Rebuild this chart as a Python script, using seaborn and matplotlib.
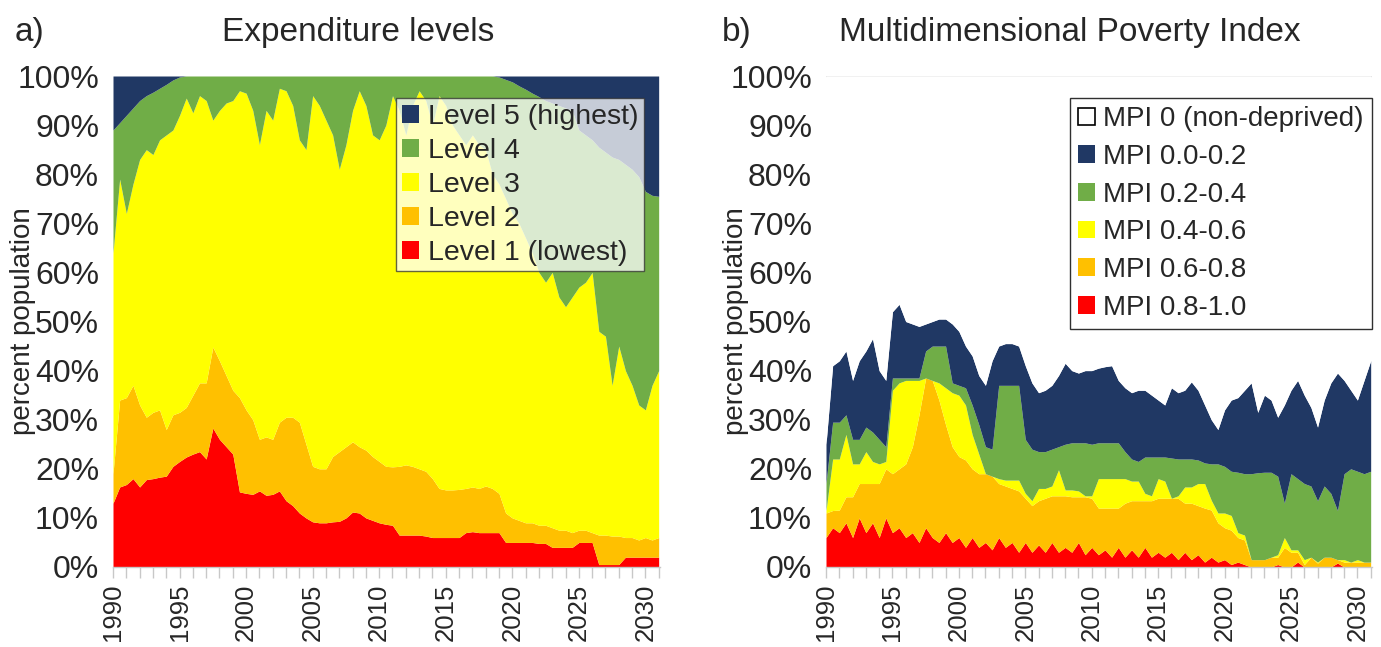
import numpy as np
import matplotlib
matplotlib.use("Agg")
import matplotlib.pyplot as plt
from matplotlib.patches import Patch
from matplotlib.ticker import MultipleLocator, FuncFormatter
import seaborn as sns

# ---------------- data (cumulative tops, % population), half-year steps ----------------
years = np.arange(1990.0, 2031.01, 0.5)

# a) Expenditure levels (cumulative boundaries)
exp_l1_top = [13, 16.3, 16.8, 18, 16.3, 17.8, 18, 18.3, 18.5, 20.5,
              21.5, 22.4, 23, 23.5, 22, 28.3, 26, 24.5, 23, 15.3,
              15, 14.8, 15.5, 14.6, 14.8, 15.5, 13.5, 12.5, 11, 10,
              9.2, 9, 9, 9.2, 9.3, 10, 11.2, 11, 10, 9.5,
              9, 8.7, 8.5, 6.5, 6.5, 6.5, 6.5, 6.3, 6, 6,
              6, 6, 6, 7, 7.2, 7, 7, 7, 7, 5,
              5, 5, 5, 5, 4.8, 4.8, 4, 4, 4, 4,
              5, 5, 5, 0.5, 0.5, 0.5, 0.5, 2, 2, 2,
              2, 2, 2]
exp_l2_top = [19, 34, 34.5, 37, 33, 30.5, 31.5, 32, 28, 31,
              31.5, 32.5, 35, 37.5, 37.5, 44.8, 42, 39, 36, 34.5,
              32, 30, 26, 26.5, 26, 29.5, 30.5, 30.5, 29.5, 25,
              20.5, 20, 20, 22.5, 23.5, 24.5, 25.5, 24.5, 23.8, 22.5,
              21.5, 20.5, 20.4, 20.5, 20.8, 20.5, 20, 19.5, 18, 16,
              15.7, 15.7, 15.8, 16, 16.3, 16, 16.5, 16, 15, 11,
              10, 9.5, 9, 9, 8.5, 8.5, 8, 7.5, 7.5, 7,
              7.5, 7.5, 7, 6.5, 6.5, 6.3, 6.3, 6, 6, 5.5,
              6, 5.5, 6]
exp_l3_top = [64, 79, 72, 78, 83, 85, 84, 87, 88, 89,
              92, 95.5, 92.5, 96, 95, 91, 93, 94.5, 95, 97,
              96.5, 93, 86, 93, 91, 97.5, 97, 94, 87, 85,
              96, 94, 91, 88, 81, 86, 93, 97, 94, 88,
              87, 90, 96, 93, 88, 94, 97, 95, 90, 96,
              94, 90, 88, 86, 88, 86, 85, 80, 78, 75,
              72, 70, 67, 64, 60, 58, 60, 55, 53, 55,
              57, 58, 60, 48, 47, 37, 45, 40, 37, 33,
              32, 37, 40]
exp_l4_top = [89, 90.5, 92, 93.5, 95, 96, 96.7, 97.5, 98.3, 99.2,
              99.8, 100, 100, 100, 100, 100, 100, 100, 100, 100,
              100, 100, 100, 100, 100, 100, 100, 100, 100, 100,
              100, 100, 100, 100, 100, 100, 100, 100, 100, 100,
              100, 100, 100, 100, 100, 100, 100, 100, 100, 100,
              100, 100, 100, 100, 100, 100, 100, 100, 99.8, 99.3,
              98.8, 98, 97.3, 96.5, 95.8, 95, 94.5, 94, 93.5, 93,
              89, 88, 87, 85.5, 84.5, 83.5, 83, 82, 81, 79.5,
              76.5, 75.7, 75.5]
exp_labels = ["Level 1 (lowest)", "Level 2", "Level 3", "Level 4", "Level 5 (highest)"]

# b) Multidimensional Poverty Index (cumulative boundaries)
mpi_red_top = [6, 8, 7, 9, 6, 10, 7, 9, 6, 10,
               7, 8, 6, 7, 5, 8, 6, 5, 7, 5,
               6, 4, 6, 4, 5, 3.5, 6, 4, 5, 3,
               5, 3, 4.5, 3, 5, 3, 4, 3, 5, 2.5,
               4, 2.5, 3.5, 2, 4, 2, 3.5, 2, 4, 2,
               3, 2, 3, 1.5, 3, 1.5, 2.5, 1, 2, 1,
               1.5, 0.5, 1, 0.5, 0, 0, 0, 0, 0.5, 0,
               0, 1, 0, 0, 0, 0, 0, 0.8, 0, 0,
               0, 0, 0]
mpi_orange_top = [11, 11.5, 11.6, 14.3, 14.3, 17, 17, 17, 17, 20,
                  19, 20, 21, 24.5, 31, 38.5, 38, 34, 29, 24.5,
                  22.5, 21.8, 20, 19, 19, 18.5, 17, 16.5, 16, 15.5,
                  14, 12.5, 13.5, 14, 14.5, 14.5, 14.5, 14.3, 14.3, 14.3,
                  14, 12, 12, 12, 12, 13, 13.5, 13.5, 13.5, 13.5,
                  14, 14, 14, 14, 13, 13, 12.5, 12, 11.6, 9,
                  8, 7.5, 6, 5.5, 1.5, 1.5, 1.5, 2, 2, 4,
                  3, 3, 0.5, 2, 0.8, 2, 2, 1.5, 1, 1,
                  1, 1, 1]
mpi_yellow_top = [11.5, 22, 22, 27, 21, 21, 23.5, 21.5, 21, 21.5,
                  36, 37.5, 38, 38, 38, 38.5, 38, 37.5, 36.5, 35.5,
                  35, 33, 27, 23, 19, 18.5, 18, 17.7, 17.7, 17.7,
                  15, 13.5, 16, 16, 16.5, 19.8, 15.7, 15.7, 15.5, 14.5,
                  14.5, 18, 18, 18, 18, 18, 17.5, 17.5, 15, 14.5,
                  18, 17.5, 14, 14.5, 16.3, 16.3, 17, 17, 13.6, 11,
                  11, 10.5, 7, 6.5, 1.5, 1.5, 1.5, 2, 2.5, 6,
                  3.5, 3.5, 1.5, 2, 1, 2, 2, 1.5, 1.5, 1,
                  1.5, 1, 1]
mpi_green_top = [17, 29.5, 29.5, 31, 26, 26, 28.5, 27.5, 26, 24.5,
                 38.5, 38.5, 38.5, 38.5, 38.5, 44, 45, 45, 45, 37.5,
                 37, 36.5, 33, 29, 24.5, 24, 37, 37, 37, 37,
                 26, 24, 23.5, 23.5, 24, 24.5, 25, 25.3, 25.3, 25.3,
                 25, 25.3, 25.3, 25.3, 25.3, 23.5, 22, 21.5, 22.4, 22.4,
                 22.4, 22.4, 22.2, 22, 22, 22, 21.8, 21.2, 21, 21,
                 20.5, 19.5, 19.3, 19, 19, 19.2, 19.3, 19.3, 18.5, 13,
                 19, 18, 17, 16.5, 13.5, 16.5, 15, 11.5, 19, 20,
                 19.5, 19, 19.5]
mpi_navy_top = [25, 41, 42, 44, 38, 42, 44, 46.5, 40, 38,
                52, 53.5, 50, 49.5, 49, 49.5, 50, 50.5, 50.5, 49.5,
                48, 45, 43, 39, 37, 42, 45, 45.5, 45.5, 45,
                41, 37.5, 35.5, 36, 37, 39, 41.5, 40, 39.5, 40,
                40, 40.5, 40.8, 41, 38, 36.5, 35.5, 36, 36, 35,
                34, 33, 36.5, 35.5, 36, 37.7, 36, 33, 30, 28,
                32, 34, 34.5, 36, 37.5, 31.5, 35, 34, 30.5, 33,
                36, 38, 35, 32.5, 28.5, 34, 37.5, 39.5, 38, 36,
                34, 38, 42]
mpi_labels = ["MPI 0.8-1.0", "MPI 0.6-0.8", "MPI 0.4-0.6", "MPI 0.2-0.4",
              "MPI 0.0-0.2", "MPI 0 (non-deprived)"]

xtick_years = [1990, 1995, 2000, 2005, 2010, 2015, 2020, 2025, 2030]

# ---------------- style ----------------
sns.set_theme(style="white")
plt.rcParams['font.family'] = ['Liberation Sans', 'DejaVu Sans']

RED, ORANGE, YELLOW, GREEN, NAVY = "#ff0000", "#ffc000", "#ffff00", "#70ad47", "#203864"
layer_colors = [RED, ORANGE, YELLOW, GREEN, NAVY]

W, H = 1381, 647
fig = plt.figure(figsize=(W / 100, H / 100), dpi=100)

def px_axes(x0, x1, y0, y1):
    return fig.add_axes([x0 / W, 1 - y1 / H, (x1 - x0) / W, (y1 - y0) / H])

axA = px_axes(113, 660, 76, 567)
axB = px_axes(826, 1372, 76, 567)

def draw_stack(ax, tops, colors, labels):
    lower = np.zeros(len(years))
    for top, c, lab in zip(tops, colors, labels):
        top = np.asarray(top, dtype=float)
        ax.fill_between(years, lower, top, color=c, linewidth=0, label=lab)
        lower = top

# a)
draw_stack(axA, [exp_l1_top, exp_l2_top, exp_l3_top, exp_l4_top, [100] * len(years)],
           layer_colors, exp_labels)
# b)
draw_stack(axB, [mpi_red_top, mpi_orange_top, mpi_yellow_top, mpi_green_top, mpi_navy_top,
                 [100] * len(years)],
           layer_colors + ["#ffffff"], mpi_labels)
axB.axhline(100, color="#e3e3e3", lw=1, zorder=0.5)

for ax in (axA, axB):
    ax.set_xlim(1990, 2031.1)
    ax.set_ylim(0, 100)
    ax.set_yticks(np.arange(0, 101, 10))
    ax.yaxis.set_major_formatter(FuncFormatter(lambda v, p: f"{int(v)}%"))
    ax.set_xticks(xtick_years)
    ax.set_xticklabels([str(y) for y in xtick_years], rotation=90)
    ax.xaxis.set_minor_locator(MultipleLocator(1))
    ax.tick_params(axis="x", which="both", direction="out", length=8, width=1,
                   color="#c8c8c8", bottom=True, pad=4)
    ax.tick_params(axis="x", which="major", labelsize=18.5)
    ax.tick_params(axis="y", which="both", length=0, labelsize=23, pad=10)
    for s in ("top", "right", "left"):
        ax.spines[s].set_visible(False)
    ax.spines["bottom"].set_color("#c8c8c8")
    ax.spines["bottom"].set_linewidth(1)
    ax.set_ylabel("percent population", fontsize=20)
    ax.yaxis.set_label_coords(-77 / 547, 0.5)
    ax.set_facecolor("white")

# legends
hA = [Patch(facecolor=c, edgecolor="none") for c in reversed(layer_colors)]
legA = axA.legend(hA, list(reversed(exp_labels)), loc="upper right",
                  bbox_to_anchor=(1 - 16 / 547, 1 - 22 / 491), borderaxespad=0,
                  fontsize=20.5, handlelength=0.6, handleheight=0.6, handletextpad=0.3,
                  labelspacing=0.28, borderpad=0.2, fancybox=False,
                  framealpha=0.75, facecolor="white", edgecolor="#303030")
legA.get_frame().set_linewidth(1)

hB = [Patch(facecolor="white", edgecolor="black", linewidth=1.2)] + \
     [Patch(facecolor=c, edgecolor="none") for c in reversed(layer_colors)]
legB = axB.legend(hB, list(reversed(mpi_labels)), loc="upper right",
                  bbox_to_anchor=(1.0, 1 - 22 / 491), borderaxespad=0,
                  fontsize=20, handlelength=0.6, handleheight=0.6, handletextpad=0.3,
                  labelspacing=0.42, borderpad=0.3, fancybox=False,
                  framealpha=1, facecolor="white", edgecolor="#303030")
legB.get_frame().set_linewidth(1)

# titles
fig.text(15 / W, 1 - 33 / H, "a)", fontsize=24, ha="left", va="center")
fig.text(358 / W, 1 - 33 / H, "Expenditure levels", fontsize=24, ha="center", va="center")
fig.text(722 / W, 1 - 33 / H, "b)", fontsize=24, ha="left", va="center")
fig.text(1070 / W, 1 - 33 / H, "Multidimensional Poverty Index", fontsize=24,
         ha="center", va="center")

fig.savefig("out.png", dpi=100, facecolor="white")
